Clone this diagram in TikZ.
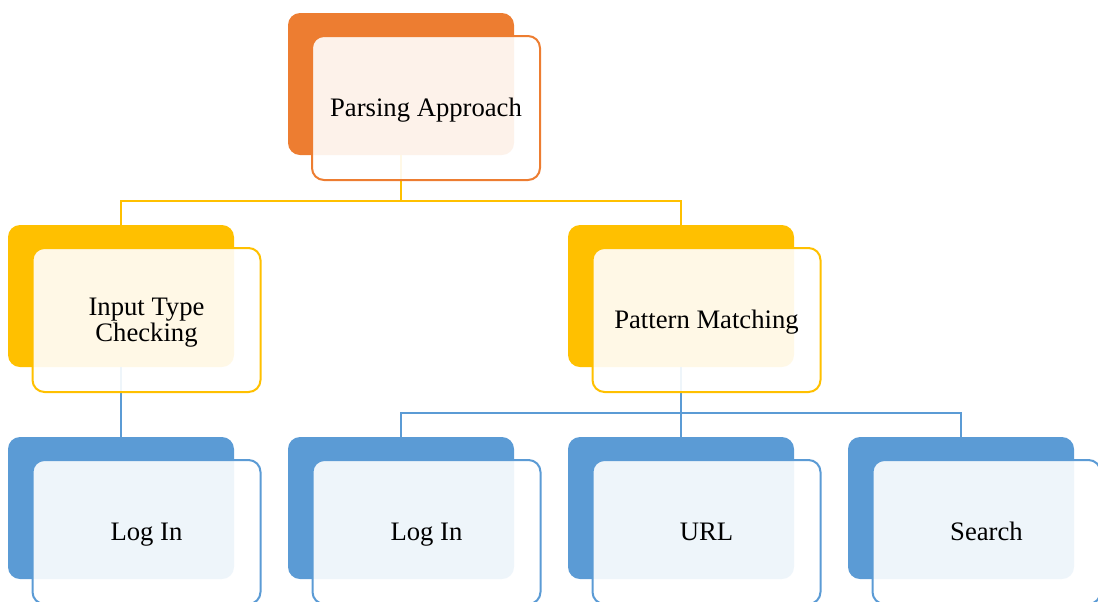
\documentclass[tikz,border=0pt]{standalone}
\usepackage{fontspec}
\setmainfont{Liberation Serif}
\definecolor{accOrange}{HTML}{ED7D31}
\definecolor{accGold}{HTML}{FFC000}
\definecolor{accBlue}{HTML}{5B9BD5}
\tikzset{
  backbox/.style={rectangle, rounded corners=9pt, minimum width=169.5pt,
    minimum height=106.5pt, inner sep=0pt, fill=#1},
  frontbox/.style={rectangle, rounded corners=9pt, minimum width=171pt,
    minimum height=108pt, inner sep=0pt, draw=#1, line width=1.5pt,
    fill=white, fill opacity=0.9, text opacity=1,
    text height=16pt, text depth=4pt,
    font=\fontsize{20}{20}\selectfont},
  link/.style={draw=#1, line width=1.5pt}
}
\begin{document}
\begin{tikzpicture}[x=0.75pt, y=-0.75pt]
  \useasboundingbox (0,0) rectangle (1098,601);
  \clip (0,0) rectangle (1098,601);

  % coloured back plates
  \node[backbox=accOrange] (rootB) at (401,84) {};
  \node[backbox=accGold] (itcB) at (121,296) {};
  \node[backbox=accGold] (pmB) at (681,296) {};
  \node[backbox=accBlue] (login1B) at (121,508) {};
  \node[backbox=accBlue] (login2B) at (401,508) {};
  \node[backbox=accBlue] (urlB) at (681,508) {};
  \node[backbox=accBlue] (searchB) at (961,508) {};

  % tree connectors
  \draw[link=accGold] (rootB.south) -- +(0,46) -| (itcB.north);
  \draw[link=accGold] (rootB.south) -- +(0,46) -| (pmB.north);
  \draw[link=accBlue] (itcB.south) -- (login1B.north);
  \draw[link=accBlue] (pmB.south) -- +(0,46) -| (login2B.north);
  \draw[link=accBlue] (pmB.south) -- (urlB.north);
  \draw[link=accBlue] (pmB.south) -- +(0,46) -| (searchB.north);

  % outlined front cards with the labels
  \node[frontbox=accOrange] (root) at (426,108) {Parsing Approach};
  \node[frontbox=accGold, text height=27.5pt, text depth=12.5pt] (itc) at (146.5,320)
    {\begin{tabular}{@{}c@{}}Input Type\\Checking\end{tabular}};
  \node[frontbox=accGold] (pm) at (706.5,320) {Pattern Matching};
  \node[frontbox=accBlue] (login1) at (146.5,532) {Log In};
  \node[frontbox=accBlue] (login2) at (426.5,532) {Log In};
  \node[frontbox=accBlue] (url) at (706.5,532) {URL};
  \node[frontbox=accBlue] (search) at (986.5,532) {Search};
\end{tikzpicture}
\end{document}
